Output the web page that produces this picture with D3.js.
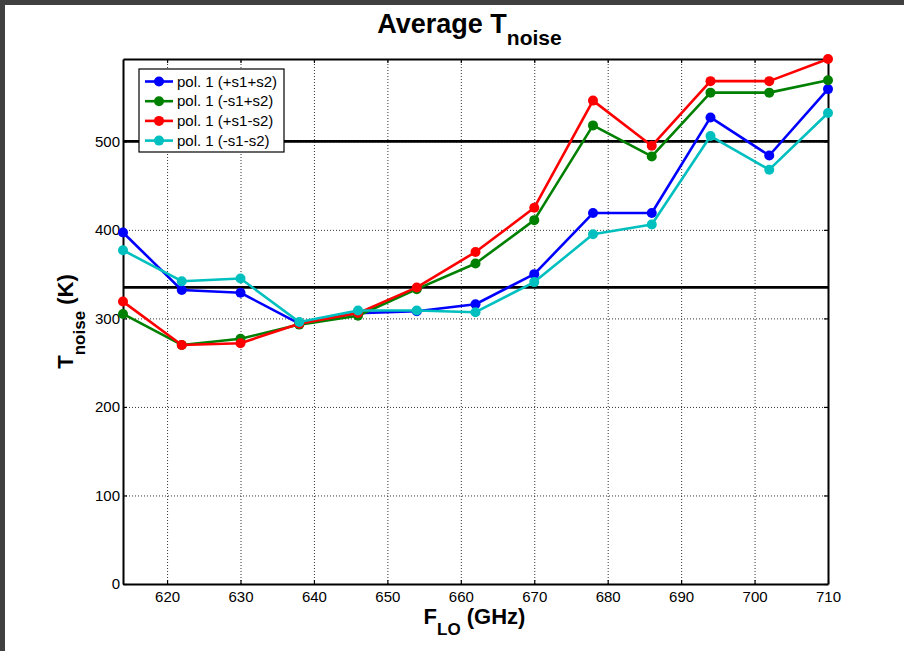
<!DOCTYPE html>
<html>
<head>
<meta charset="utf-8">
<script src="https://cdn.jsdelivr.net/npm/d3@7"></script>
<style>
  body { margin: 0; background: #fff; }
  svg text { font-family: Arial, "Liberation Sans", sans-serif; }
</style>
</head>
<body>
<div id="chart"></div>
<script>
// LO frequencies (GHz)
var freqs = [614, 622, 630, 638, 646, 654, 662, 670, 678, 686, 694, 702, 710];

// average T_noise (K) per polarisation combination
var seriesNames = ["pol. 1 (+s1+s2)", "pol. 1 (-s1+s2)", "pol. 1 (+s1-s2)", "pol. 1 (-s1-s2)"];
var tBlue  = [397, 332, 329, 294, 306, 308, 316, 350, 419, 419, 527, 484, 559];
var tGreen = [305, 270, 277, 293, 303, 333, 362, 411, 518, 483, 555, 555, 569];
var tRed   = [319, 270, 272, 294, 306, 335, 375, 425, 546, 495, 568, 568, 593];
var tCyan  = [377, 342, 345, 296, 309, 309, 307, 341, 395, 406, 506, 468, 532];
var seriesColors = ["#0000ff", "#008000", "#ff0000", "#00bfbf"];

// black reference levels (K)
var refLevels = [500, 335];

var xTicks = [620, 630, 640, 650, 660, 670, 680, 690, 700, 710];
var yTicks = [0, 100, 200, 300, 400, 500];
var xDomain = [614, 710];
var yDomain = [0, 593];

var W = 904, H = 651;
var margin = {top: 59, right: 76, bottom: 67, left: 123};
var width = W - margin.left - margin.right,
    height = H - margin.top - margin.bottom;

var svg = d3.select("#chart").append("svg")
    .attr("width", W)
    .attr("height", H);

// window frame
svg.append("rect").attr("x", 0).attr("y", 0).attr("width", W).attr("height", 5).attr("fill", "#404040");
svg.append("rect").attr("x", 0).attr("y", 0).attr("width", 5).attr("height", H).attr("fill", "#404040");

var g = svg.append("g")
    .attr("transform", "translate(" + margin.left + "," + margin.top + ")");

var x = d3.scaleLinear().domain(xDomain).range([0, width]);
var y = d3.scaleLinear().domain(yDomain).range([height, 0]);

// dotted grid
g.append("g")
    .attr("class", "grid")
    .attr("transform", "translate(0," + height + ")")
    .call(d3.axisBottom(x).tickValues(xTicks).tickSize(-height).tickFormat(""));
g.append("g")
    .attr("class", "grid")
    .call(d3.axisLeft(y).tickValues(yTicks).tickSize(-width).tickFormat(""));
g.selectAll(".grid .domain").remove();
g.selectAll(".grid line")
    .attr("stroke", "#333")
    .attr("stroke-width", 1)
    .attr("stroke-dasharray", "1,2");

// reference lines
g.selectAll(".ref")
    .data(refLevels)
    .enter().append("line")
    .attr("class", "ref")
    .attr("x1", 0).attr("x2", width)
    .attr("y1", function (d) { return y(d); })
    .attr("y2", function (d) { return y(d); })
    .attr("stroke", "#000")
    .attr("stroke-width", 2.8);

// axes (ticks inward, matlab style)
var xAxis = g.append("g")
    .attr("transform", "translate(0," + height + ")")
    .call(d3.axisBottom(x).tickValues(xTicks).tickSizeInner(-4).tickSizeOuter(0).tickPadding(7));
var yAxis = g.append("g")
    .call(d3.axisLeft(y).tickValues(yTicks).tickSizeInner(-4).tickSizeOuter(0).tickPadding(3));
g.append("g")
    .call(d3.axisTop(x).tickValues(xTicks).tickSizeInner(-4).tickSizeOuter(0).tickFormat(""));
g.append("g")
    .attr("transform", "translate(" + width + ",0)")
    .call(d3.axisRight(y).tickValues(yTicks).tickSizeInner(-4).tickSizeOuter(0).tickFormat(""));

g.selectAll(".domain").attr("stroke", "#000").attr("stroke-width", 2);
g.selectAll(".tick line").filter(function () { return !this.closest(".grid"); })
    .attr("stroke", "#000").attr("stroke-width", 1.2);
xAxis.selectAll("text").attr("font-size", 15).attr("fill", "#000");
yAxis.selectAll("text").attr("font-size", 15).attr("fill", "#000");

// series
var allSeries = [tBlue, tGreen, tRed, tCyan];
var line = d3.line()
    .x(function (d, i) { return x(freqs[i]); })
    .y(function (d) { return y(d); });

allSeries.forEach(function (vals, k) {
    g.append("path")
        .datum(vals)
        .attr("fill", "none")
        .attr("stroke", seriesColors[k])
        .attr("stroke-width", 2.6)
        .attr("stroke-linejoin", "round")
        .attr("d", line);
    g.selectAll(".pt" + k)
        .data(vals)
        .enter().append("circle")
        .attr("class", "pt" + k)
        .attr("cx", function (d, i) { return x(freqs[i]); })
        .attr("cy", function (d) { return y(d); })
        .attr("r", 5)
        .attr("fill", seriesColors[k]);
});

// legend
var legend = g.append("g").attr("transform", "translate(16,10)");
legend.append("rect")
    .attr("width", 145).attr("height", 83)
    .attr("fill", "#fff").attr("stroke", "#000").attr("stroke-width", 1.2);
var items = legend.selectAll(".item")
    .data(seriesNames)
    .enter().append("g")
    .attr("transform", function (d, i) { return "translate(0," + (12.5 + i * 19.7) + ")"; });
items.append("line")
    .attr("x1", 6).attr("x2", 34)
    .attr("stroke", function (d, i) { return seriesColors[i]; })
    .attr("stroke-width", 2.6);
items.append("circle")
    .attr("cx", 20).attr("r", 5)
    .attr("fill", function (d, i) { return seriesColors[i]; });
items.append("text")
    .attr("x", 38).attr("y", 5)
    .attr("font-size", 15)
    .text(function (d) { return d; });

// title
var title = svg.append("text")
    .attr("x", margin.left + width / 2 - 6)
    .attr("y", 33)
    .attr("text-anchor", "middle")
    .attr("font-weight", "bold")
    .attr("font-size", 27);
title.append("tspan").text("Average T");
title.append("tspan").attr("dy", 12).attr("font-size", 21).text("noise");

// x label
var xl = svg.append("text")
    .attr("x", margin.left + width / 2 - 1)
    .attr("y", 624)
    .attr("text-anchor", "middle")
    .attr("font-weight", "bold")
    .attr("font-size", 22);
xl.append("tspan").text("F");
xl.append("tspan").attr("dy", 11).attr("font-size", 17).text("LO");
xl.append("tspan").attr("dy", -11).text(" (GHz)");

// y label
var yl = svg.append("text")
    .attr("transform", "translate(73," + (margin.top + height / 2) + ") rotate(-90)")
    .attr("text-anchor", "middle")
    .attr("font-weight", "bold")
    .attr("font-size", 22);
yl.append("tspan").text("T");
yl.append("tspan").attr("dy", 12).attr("font-size", 17).text("noise");
yl.append("tspan").attr("dy", -12).text(" (K)");
</script>
</body>
</html>
